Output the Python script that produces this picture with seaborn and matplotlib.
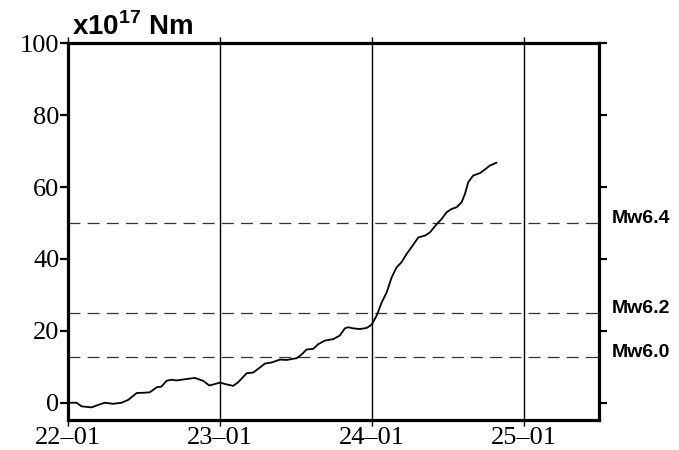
import numpy as np
import pandas as pd
import seaborn as sns
import matplotlib.pyplot as plt

# cumulative seismic moment (x10^17 Nm), time in day-of-month (January)
days = [22.013, 22.057, 22.090, 22.156, 22.199, 22.243, 22.298, 22.353, 22.397, 22.452,
        22.507, 22.539, 22.584, 22.616, 22.649, 22.682, 22.715, 22.781, 22.836, 22.890,
        22.930, 22.967, 23.000, 23.044, 23.088, 23.120, 23.176, 23.219, 23.263, 23.296,
        23.340, 23.395, 23.439, 23.505, 23.537, 23.570, 23.614, 23.647, 23.691, 23.745,
        23.789, 23.822, 23.844, 23.877, 23.921, 23.965, 23.998, 24.031, 24.064, 24.097,
        24.130, 24.163, 24.195, 24.228, 24.261, 24.305, 24.349, 24.382, 24.426, 24.458,
        24.491, 24.524, 24.557, 24.590, 24.612, 24.634, 24.666, 24.711, 24.743, 24.776,
        24.820]
moment = [0.0, 0.0, -1.0, -1.3, -0.6, 0.0, -0.3, 0.0, 0.8, 2.7,
          2.8, 2.9, 4.3, 4.5, 6.1, 6.4, 6.2, 6.6, 6.9, 6.1,
          4.8, 5.2, 5.6, 5.1, 4.7, 5.7, 8.2, 8.4, 9.8, 10.9,
          11.2, 12.0, 11.9, 12.4, 13.4, 14.8, 15.0, 16.3, 17.3, 17.7,
          18.7, 20.7, 21.0, 20.7, 20.5, 20.8, 21.7, 24.2, 27.9, 30.7,
          34.9, 37.7, 39.1, 41.4, 43.3, 46.0, 46.5, 47.4, 49.7, 51.1,
          53.0, 53.9, 54.4, 55.8, 58.1, 61.4, 63.2, 63.9, 64.9, 66.0,
          66.8]

x_ticks = [22, 23, 24, 25]
x_labels = ["22\u201301", "23\u201301", "24\u201301", "25\u201301"]
y_ticks = [0, 20, 40, 60, 80, 100]
mw_labels = ["Mw6.0", "Mw6.2", "Mw6.4"]
mw_moment = [12.6, 25.1, 50.1]

sns.set_theme(style="white")
plt.rcParams["font.family"] = ["Liberation Serif", "DejaVu Serif"]
plt.rcParams["mathtext.fontset"] = "custom"
plt.rcParams["mathtext.bf"] = "Liberation Sans:bold"
plt.rcParams["mathtext.rm"] = "Liberation Sans:bold"
plt.rcParams["lines.scale_dashes"] = False
plt.rcParams["text.color"] = "black"
plt.rcParams["xtick.color"] = "black"
plt.rcParams["ytick.color"] = "black"

df = pd.DataFrame({"day": days, "moment": moment})

fig = plt.figure(figsize=(6.79, 4.5), dpi=100)
ax = fig.add_axes([0.100, 0.0667, 0.782, 0.837])

for m in mw_moment:
    ax.axhline(m, color="#333333", lw=0.9, dashes=(8.6, 5.2), zorder=1)

sns.lineplot(data=df, x="day", y="moment", color="black", lw=1.3,
             sort=False, estimator=None, ax=ax, zorder=3)

ax.set_xlim(22, 25.493)
ax.set_ylim(-4.8, 100)
ax.set_xticks(x_ticks)
ax.set_xticklabels(x_labels)
ax.set_yticks(y_ticks)
ax.set_xlabel("")
ax.set_ylabel("")
ax.grid(axis="x", color="black", lw=1.0)
ax.grid(axis="y", visible=False)

for s in ax.spines.values():
    s.set_linewidth(2.3)
    s.set_color("black")
    s.set_zorder(5)

ax.tick_params(axis="x", which="major", direction="out", length=4, width=1.0,
               color="black", labelcolor="black", top=True, bottom=True,
               labelsize=19, pad=1)
ax.tick_params(axis="y", which="major", direction="out", length=6, width=1.6,
               color="black", labelcolor="black", left=True, right=True,
               labelsize=19, pad=0)
ax.tick_params(labeltop=False, labelright=False)

ax.annotate(r"x10$^{\mathbf{17}}$ Nm", xy=(0, 1), xycoords="axes fraction",
            xytext=(3, 6), textcoords="offset points", ha="left", va="baseline",
            fontsize=20, fontweight="bold", family="Liberation Sans", color="black")

for lab, m in zip(mw_labels, mw_moment):
    ax.text(1.024, m, lab, transform=ax.get_yaxis_transform(), ha="left",
            va="baseline", fontsize=14, fontweight="bold", family="Liberation Sans",
            color="black")

fig.savefig("out.png", dpi=100)
